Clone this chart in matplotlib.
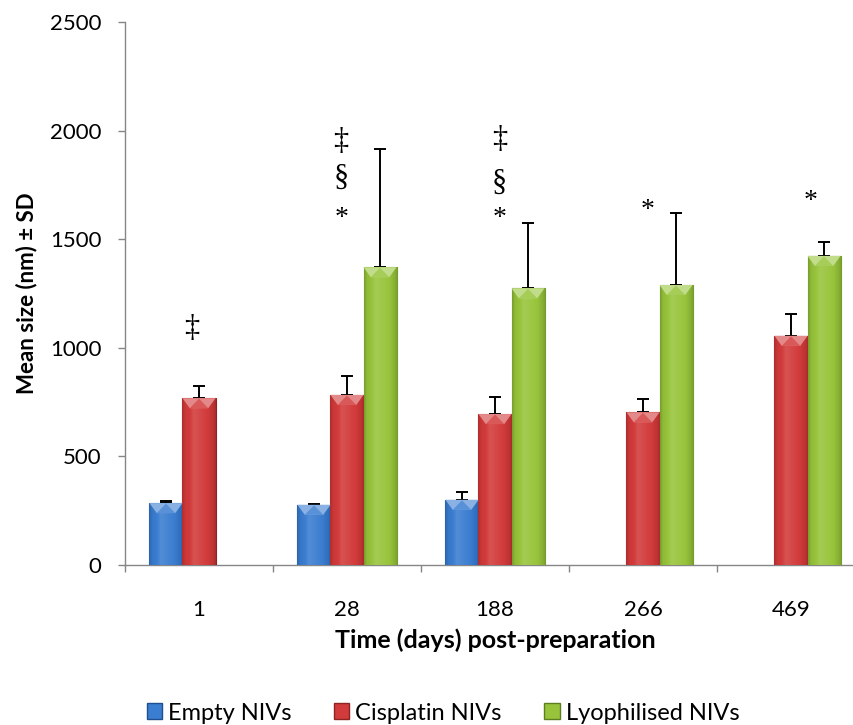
import numpy as np
import matplotlib
matplotlib.use("Agg")
import matplotlib.pyplot as plt
import matplotlib.transforms as mtransforms
from matplotlib.patches import Patch, Polygon
from matplotlib.colors import to_rgb

# ---- data -------------------------------------------------------------
days = ["1", "28", "188", "266", "469"]
empty_mean = [285, 277, 300, np.nan, np.nan]
empty_sd = [10, 5, 36, np.nan, np.nan]
cis_mean = [768, 783, 695, 703, 1055]
cis_sd = [54, 89, 77, 60, 101]
lyo_mean = [np.nan, 1371, 1274, 1289, 1423]
lyo_sd = [np.nan, 543, 299, 333, 63]
series_names = ["Empty NIVs", "Cisplatin NIVs", "Lyophilised NIVs"]

# significance markers: (category index, x offset, y value, symbol)
marks = [
    (0, -0.05, 1091, "\u2021"),
    (1, -0.04, 1950, "\u2021"), (1, -0.04, 1782, "\u00a7"), (1, -0.04, 1634, "*"),
    (2, 0.03, 1958, "\u2021"), (2, 0.03, 1759, "\u00a7"), (2, 0.03, 1634, "*"),
    (3, 0.03, 1671, "*"),
    (4, 0.13, 1713, "*"),
]

# ---- style ------------------------------------------------------------
colors = ["#3b7dd0", "#d23b3b", "#98c43c"]
dark = ["#1f4f8f", "#8f2222", "#5d7f1f"]
axis_grey = "#868686"
plt.rcParams["font.family"] = ["Lato", "DejaVu Sans"]

W, H, DPI = 854, 725, 100
fig = plt.figure(figsize=(W / DPI, H / DPI), dpi=DPI)
left_px, right_px, top_px, bot_px = 125, 865, 22, 565
ax = fig.add_axes([left_px / W, 1 - bot_px / H,
                   (right_px - left_px) / W, (bot_px - top_px) / H])

x = np.arange(len(days))
bw = 0.223
means = [empty_mean, cis_mean, lyo_mean]
sds = [empty_sd, cis_sd, lyo_sd]

ax.set_xlim(-0.5, len(days) - 0.5)
ax.set_ylim(0, 2500)
bevel = 10 * 2500 / (bot_px - top_px)


def shade(rect, base, edge):
    x0, y0 = rect.get_x(), rect.get_y()
    w, h = rect.get_width(), rect.get_height()
    if not np.isfinite(h) or h <= 0:
        return
    b = np.array(to_rgb(base))
    d = np.array(to_rgb(edge))
    t = np.linspace(0, 1, 64)
    prof = np.interp(t, [0, 0.08, 0.35, 0.75, 0.92, 1], [0.55, 0.15, -0.12, 0.0, 0.3, 0.6])
    rows = []
    for p in prof:
        if p >= 0:
            c = b * (1 - p) + d * p
        else:
            c = b * (1 + p) + np.ones(3) * (-p)
        rows.append(c)
    img = np.array(rows)[None, :, :]
    im = ax.imshow(img, extent=[x0, x0 + w, y0, y0 + h], aspect="auto",
                   interpolation="bilinear", zorder=rect.get_zorder() + 0.1)
    im.set_clip_path(rect)
    top = y0 + h
    light = b * 0.6 + np.ones(3) * 0.4
    tri = Polygon([(x0, top), (x0 + w, top), (x0 + w * 0.78, top - bevel),
                   (x0 + w * 0.22, top - bevel)], closed=True,
                  facecolor=light, edgecolor="none", zorder=rect.get_zorder() + 0.2)
    ax.add_patch(tri)
    tri2 = Polygon([(x0 + w * 0.22, top - bevel), (x0 + w * 0.78, top - bevel),
                    (x0 + w * 0.5, top - bevel * 0.05)], closed=True,
                   facecolor=b * 0.85 + np.ones(3) * 0.15, edgecolor="none",
                   zorder=rect.get_zorder() + 0.25)
    ax.add_patch(tri2)


for i in range(3):
    pos = x + (i - 1) * bw
    m = np.array(means[i], dtype=float)
    s = np.array(sds[i], dtype=float)
    bars = ax.bar(pos, m, width=bw, color=colors[i], edgecolor=dark[i],
                  linewidth=0.8, zorder=3)
    for r in bars:
        shade(r, colors[i], dark[i])
    ax.errorbar(pos, m, yerr=[np.zeros_like(s), s], fmt="none", ecolor="black",
                elinewidth=1.4, capsize=4.5, capthick=1.4, zorder=2)

ax.set_xlim(-0.5, len(days) - 0.5)
ax.set_ylim(0, 2500)

# the serif asterisk sits high in its line box, so nudge it down
star_tf = mtransforms.offset_copy(ax.transData, fig=fig, x=0, y=-6, units="points")
for ci, dx, yv, sym in marks:
    is_star = sym == "*"
    ax.text(x[ci] + dx, yv, sym, ha="center", va="center",
            fontsize=20 if is_star else 22,
            transform=star_tf if is_star else ax.transData,
            family=["Liberation Serif", "DejaVu Serif"], color="black", zorder=5)

# ---- axes styling ------------------------------------------------------
for sp in ["top", "right"]:
    ax.spines[sp].set_visible(False)
for sp in ["left", "bottom"]:
    ax.spines[sp].set_color(axis_grey)
    ax.spines[sp].set_linewidth(1.0)

ax.set_yticks(np.arange(0, 2501, 500))
ax.tick_params(axis="y", direction="out", length=5, width=1.0, color=axis_grey,
               labelsize=16, pad=12)
ax.set_xticks(x)
ax.set_xticklabels(days)
ax.set_xticks(np.arange(-0.5, len(days)), minor=True)
ax.tick_params(axis="x", which="major", length=0, labelsize=16, pad=25)
ax.tick_params(axis="x", which="minor", direction="out", length=5, width=1.0,
               color=axis_grey)

ax.set_ylabel("Mean size (nm) \u00b1 SD", fontsize=16, fontweight="bold", labelpad=9)
ax.set_xlabel("Time (days) post-preparation", fontsize=18, fontweight="bold",
              labelpad=6)

handles = [Patch(facecolor=colors[i], edgecolor=dark[i], label=series_names[i])
           for i in range(3)]
fig.legend(handles=handles, loc="center", bbox_to_anchor=(443 / W, 1 - 713 / H),
           ncol=3, frameon=False, fontsize=17, handlelength=0.65,
           handleheight=0.65, handletextpad=0.25, columnspacing=1.8)

fig.savefig("out.png", dpi=DPI)
